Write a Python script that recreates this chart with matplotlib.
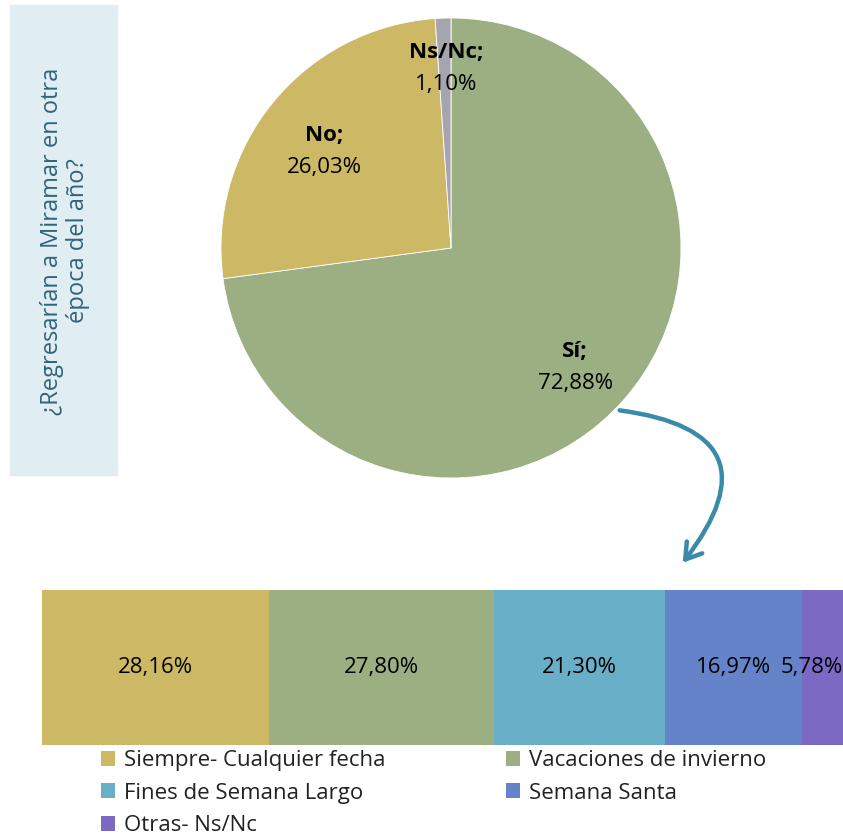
import matplotlib
matplotlib.use("Agg")
import matplotlib.pyplot as plt
from matplotlib.patches import Rectangle, FancyArrowPatch

# ------------------------------
# Data
# ------------------------------
pie_labels = ["Sí", "No", "Ns/Nc"]
pie_values = [72.88, 26.03, 1.10]
pie_colors = ["#9BAF82", "#CDB866", "#A6A4AE"]

bar_labels = ["Siempre- Cualquier fecha", "Vacaciones de invierno",
              "Fines de Semana Largo", "Semana Santa", "Otras- Ns/Nc"]
bar_values = [28.16, 27.80, 21.30, 16.97, 5.78]
bar_colors = ["#CDB866", "#9BAF82", "#6AAFC8", "#6583C9", "#7B69C3"]

title = "¿Regresarían a Miramar en otra\népoca del año?"

plt.rcParams['font.family'] = ['Open Sans', 'DejaVu Sans']

W, H = 843, 836
fig = plt.figure(figsize=(W / 100, H / 100), dpi=100)

def fx(px):
    return px / W

def fy(py):
    return 1 - py / H

# side box with the question
fig.patches.append(Rectangle((fx(10), fy(475)), fx(107), 470 / H,
                             transform=fig.transFigure, color="#E0EDF3", zorder=0))
fig.text(fx(65), fy(241), title, rotation=90, ha="center", va="center",
         fontsize=17, color="#2F6479", linespacing=1.15)

# ------------------------------
# Pie
# ------------------------------
cx, cy, r = 451, 248, 230
ax_pie = fig.add_axes([fx(cx - r), fy(cy + r), 2 * r / W, 2 * r / H])
ax_pie.pie(pie_values, colors=pie_colors, startangle=90, counterclock=False,
           wedgeprops=dict(linewidth=0.6, edgecolor="white"))
ax_pie.set_xlim(-1, 1)
ax_pie.set_ylim(-1, 1)
ax_pie.set_aspect("auto")
ax_pie.axis("off")

# label positions (in pie data coords)
label_pos = [(0.54, -0.52), (-0.55, 0.42), (-0.02, 0.78)]
for name, val, (lx, ly) in zip(pie_labels, pie_values, label_pos):
    ax_pie.text(lx, ly + 0.07, name + ";", ha="center", va="center",
                fontsize=16, fontweight="bold", color="black")
    ax_pie.text(lx, ly - 0.07, f"{val:.2f}%".replace(".", ","), ha="center",
                va="center", fontsize=16, color="black")

# curved arrow
arrow = FancyArrowPatch((fx(617), fy(410)), (fx(681), fy(565)),
                        transform=fig.transFigure,
                        connectionstyle="arc3,rad=-0.88",
                        arrowstyle="->,head_length=11,head_width=7",
                        color="#3A8BA8", linewidth=3.2)
fig.patches.append(arrow)

# ------------------------------
# Stacked bar (it runs a little past the right edge)
# ------------------------------
ax_bar = fig.add_axes([fx(42), fy(745), (W - 42) / W, 155 / H])
left = 0
handles = []
for name, val, col in zip(bar_labels, bar_values, bar_colors):
    b = ax_bar.barh(0, val, left=left, height=1, color=col, label=name)
    handles.append(b)
    left += val
ax_bar.set_xlim(0, sum(bar_values) * 801 / 807)
ax_bar.set_ylim(-0.5, 0.5)
ax_bar.axis("off")

xmax = ax_bar.get_xlim()[1]
left = 0
for val in bar_values:
    txt = f"{val:.2f}%".replace(".", ",")
    if left + val > xmax:
        ax_bar.text(xmax, 0, txt, ha="right", va="center", fontsize=16,
                    color="black")
    else:
        ax_bar.text(left + val / 2, 0, txt, ha="center", va="center",
                    fontsize=16, color="black")
    left += val

# legend filled row by row
order = [0, 2, 4, 1, 3]
fig.legend(handles=[handles[i] for i in order],
           labels=[bar_labels[i] for i in order], ncol=2,
           loc="upper left", bbox_to_anchor=(fx(101), fy(750)),
           borderpad=0, borderaxespad=0,
           frameon=False, fontsize=16, handlelength=0.65, handleheight=0.65,
           handletextpad=0.4, columnspacing=5.4, labelspacing=0.52,
           labelcolor="#222222")

fig.savefig("out.png", dpi=100)
